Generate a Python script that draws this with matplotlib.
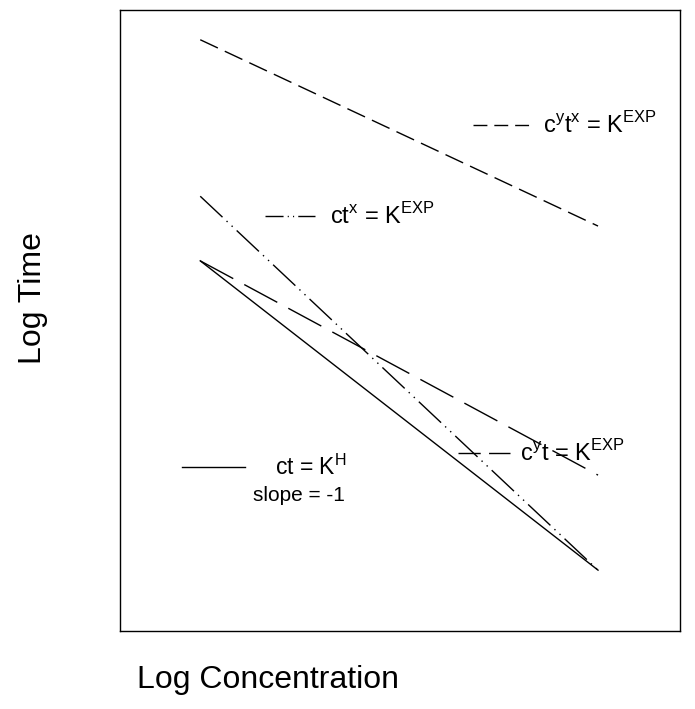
import matplotlib
matplotlib.use('Agg')
import matplotlib.pyplot as plt

plt.rcParams['font.family'] = ['Liberation Sans', 'DejaVu Sans']
plt.rcParams['mathtext.fontset'] = 'custom'
plt.rcParams['mathtext.rm'] = 'Liberation Sans'

# schematic lines: (log conc, log time) end points
conc = [1.43, 8.54]
t_cytx = [9.52, 6.52]
t_ctx = [7.00, 0.98]
t_cyt = [5.96, 2.51]
t_ct = [5.96, 0.98]

labels = [r'c$^\mathregular{y}$t$^\mathregular{x}$ = K$^\mathregular{EXP}$',
          r'ct$^\mathregular{x}$ = K$^\mathregular{EXP}$',
          r'c$^\mathregular{y}$t = K$^\mathregular{EXP}$',
          r'ct = K$^\mathregular{H}$']
note = 'slope = -1'
series = [t_cytx, t_ctx, t_cyt, t_ct]
styles = [(0, (14, 5.5)), (0, (22, 4, 1, 4, 1, 4)), (0, (27, 9)), '-']
key_styles = [(0, (10, 5)), (0, (13, 3, 0.8, 3, 0.8, 3)), (0, (16, 6)), '-']

# key placement in axes fraction: line x0, x1, y, text x, text align, size
keys = [(0.630, 0.730, 0.815, 0.756, 'left', 17),
        (0.259, 0.348, 0.668, 0.375, 'left', 17),
        (0.604, 0.697, 0.287, 0.714, 'left', 17),
        (0.111, 0.223, 0.264, 0.340, 'center', 16.5)]

fig = plt.figure(figsize=(6.95, 7.09), dpi=100)
ax = fig.add_axes([0.173, 0.110, 0.805, 0.876])
ax.set_xlim(0, 10)
ax.set_ylim(0, 10)
ax.set_xticks([])
ax.set_yticks([])
for s in ax.spines.values():
    s.set_linewidth(1.0)

for y, ls in zip(series, styles):
    ax.plot(conc, y, color='black', lw=1.0, linestyle=ls)

for (x0, x1, yk, xt, ha, fs), lab, ls in zip(keys, labels, key_styles):
    ax.plot([x0, x1], [yk, yk], color='black', lw=1.0, linestyle=ls,
            transform=ax.transAxes, clip_on=False)
    ax.text(xt, yk, lab, transform=ax.transAxes, fontsize=fs,
            ha=ha, va='center')

# second line under the ct = K^H key
ax.text(0.320, 0.218, note, transform=ax.transAxes, fontsize=15,
        ha='center', va='center')

fig.text(0.386, 0.041, 'Log Concentration', fontsize=23, ha='center', va='center')
fig.text(0.047, 0.580, 'Log Time', fontsize=23, ha='center', va='center',
         rotation=90)

fig.savefig('out.png', dpi=100)
